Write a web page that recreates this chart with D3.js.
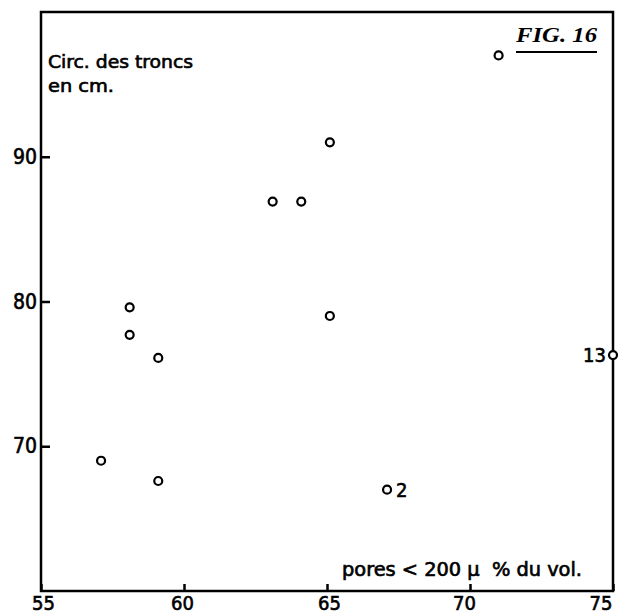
<!DOCTYPE html>
<html>
<head>
<meta charset="utf-8">
<script src="https://cdn.jsdelivr.net/npm/d3@7"></script>
<style>
  html, body { margin: 0; padding: 0; background: #fff; }
  svg { display: block; }
</style>
</head>
<body>
<svg id="chart" width="618" height="616"></svg>
<script>
// ---- data ----
const poresPct = [71.0, 65.1, 63.1, 64.1, 65.1, 58.1, 58.1, 59.1, 57.1, 59.1, 67.1, 75.0];
const circCm   = [97.0, 91.0, 86.9, 86.9, 79.0, 79.6, 77.7, 76.1, 69.0, 67.6, 67.0, 76.3];
const pointLabels = ["", "", "", "", "", "", "", "", "", "", "2", "13"];
const xTicks = [55, 60, 65, 70, 75];
const yTicks = [70, 80, 90];
const yTitle = ["Circ. des troncs", "en cm."];
const xTitle = "pores < 200 µ  % du vol.";
const figTitle = "FIG. 16";

// ---- layout ----
const W = 618, H = 616;
const m = { left: 41, right: 5, top: 12, bottom: 25 };
const svg = d3.select("#chart");
const x = d3.scaleLinear().domain([55, 75]).range([m.left, W - m.right]);
const y = d3.scaleLinear().domain([60, 100]).range([H - m.bottom, m.top]);

const font = "'DejaVu Sans Condensed', 'DejaVu Sans', sans-serif";
const heavy = sel => sel.attr("stroke", "#000").attr("stroke-width", 0.6);

// frame
svg.append("rect")
  .attr("x", x(55)).attr("y", y(100))
  .attr("width", x(75) - x(55)).attr("height", y(60) - y(100))
  .attr("fill", "none").attr("stroke", "#000").attr("stroke-width", 2.5);

// x axis
const xAxis = svg.append("g")
  .attr("transform", `translate(0,${y(60)})`)
  .call(d3.axisBottom(x).tickValues(xTicks).tickSize(-7).tickPadding(0).tickFormat(d3.format("d")));
xAxis.select(".domain").remove();
xAxis.selectAll("line").attr("stroke", "#000").attr("stroke-width", 2.5);
xAxis.selectAll("text")
  .attr("font-family", font).attr("font-size", 20).attr("fill", "#000")
  .attr("y", 19).attr("dy", 0)
  .attr("text-anchor", d => d === 75 ? "end" : "middle")
  .attr("dx", d => d === 75 ? -1 : (d === 70 ? -6 : (d === 60 ? -2 : 2)))
  .call(heavy);

// y axis
const yAxis = svg.append("g")
  .attr("transform", `translate(${x(55)},0)`)
  .call(d3.axisLeft(y).tickValues(yTicks).tickSize(-9).tickPadding(4).tickFormat(d3.format("d")));
yAxis.select(".domain").remove();
yAxis.selectAll("line").attr("stroke", "#000").attr("stroke-width", 2.5);
yAxis.selectAll("text")
  .attr("font-family", font).attr("font-size", 21).attr("fill", "#000")
  .attr("text-anchor", "end")
  .call(heavy);

// y title
svg.append("text")
  .attr("x", 48).attr("y", 68)
  .attr("font-family", font).attr("font-size", 18).attr("fill", "#000")
  .attr("textLength", 145).attr("lengthAdjust", "spacingAndGlyphs")
  .call(heavy)
  .text(yTitle[0]);
svg.append("text")
  .attr("x", 48).attr("y", 92)
  .attr("font-family", font).attr("font-size", 18).attr("fill", "#000")
  .attr("textLength", 66).attr("lengthAdjust", "spacingAndGlyphs")
  .call(heavy)
  .text(yTitle[1]);

// x title
svg.append("text")
  .attr("x", 342).attr("y", 576)
  .attr("font-family", font).attr("font-size", 19).attr("fill", "#000")
  .style("white-space", "pre")
  .attr("textLength", 240).attr("lengthAdjust", "spacingAndGlyphs")
  .call(heavy)
  .text(xTitle);

// figure title
svg.append("text")
  .attr("x", 516).attr("y", 42)
  .attr("font-family", "'Liberation Serif', serif").attr("font-style", "italic").attr("font-weight", "bold")
  .attr("font-size", 21).attr("fill", "#000")
  .attr("textLength", 81).attr("lengthAdjust", "spacingAndGlyphs")
  .text(figTitle);
svg.append("line")
  .attr("x1", 516).attr("x2", 597).attr("y1", 52).attr("y2", 52)
  .attr("stroke", "#000").attr("stroke-width", 2);

// points
const pts = poresPct.map((v, i) => ({ px: v, cy: circCm[i], lab: pointLabels[i] }));
svg.append("g").selectAll("circle")
  .data(pts).join("circle")
  .attr("cx", d => x(d.px)).attr("cy", d => y(d.cy))
  .attr("r", 4).attr("fill", "#fff").attr("stroke", "#000").attr("stroke-width", 2.2);

// point labels
svg.append("g").selectAll("text")
  .data(pts.filter(d => d.lab))
  .join("text")
  .attr("x", d => d.px >= 75 ? x(d.px) - 7 : x(d.px) + 9)
  .attr("y", d => y(d.cy) + 7)
  .attr("text-anchor", d => d.px >= 75 ? "end" : "start")
  .attr("font-family", font).attr("font-size", 20).attr("fill", "#000")
  .call(heavy)
  .text(d => d.lab);
</script>
</body>
</html>
